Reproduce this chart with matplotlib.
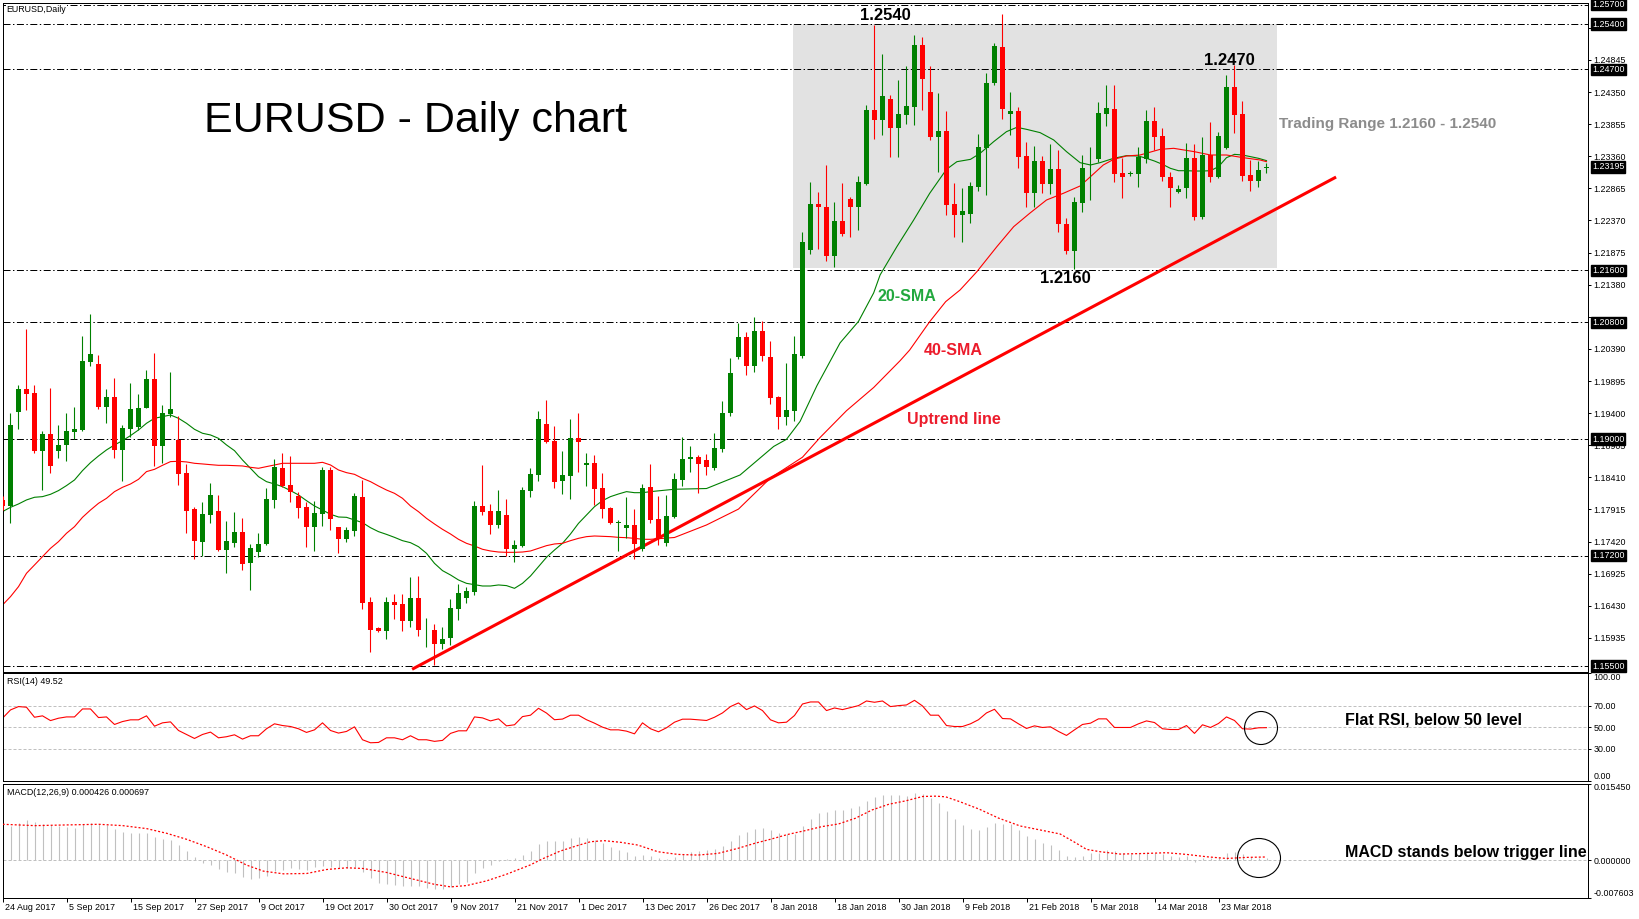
import matplotlib
matplotlib.use('Agg')
import matplotlib.pyplot as plt
from matplotlib.patches import Rectangle, Ellipse

plt.rcParams['font.family'] = ['Liberation Sans', 'DejaVu Sans']

# ---- data (EURUSD daily, 159 bars) ----
opens = [1.18061, 1.17968, 1.19423, 1.19772, 1.19711, 1.18821, 1.19078, 1.18821, 1.18914, 1.19109,
         1.19140, 1.20194, 1.20158, 1.19500, 1.19649, 1.18837, 1.19161, 1.19191, 1.19484, 1.19926,
         1.18898, 1.19392, 1.18986, 1.18477, 1.17922, 1.17418, 1.17835, 1.17891, 1.17295, 1.17403,
         1.17567, 1.17094, 1.17264, 1.17382, 1.18061, 1.18554, 1.18292, 1.18122, 1.17953, 1.17649,
         1.17845, 1.18523, 1.17639, 1.17464, 1.17587, 1.18106, 1.16487, 1.16087, 1.16045, 1.16487,
         1.16456, 1.16199, 1.16544, 1.16066, 1.16056, 1.15840, 1.15937, 1.16379, 1.16554, 1.16642,
         1.17968, 1.17890, 1.17680, 1.17829, 1.17310, 1.17356, 1.18204, 1.18446, 1.19237, 1.18970,
         1.18358, 1.18435, 1.19016, 1.18605, 1.18631, 1.18245, 1.17937, 1.17700, 1.17634, 1.17675,
         1.17305, 1.18253, 1.17774, 1.17399, 1.17801, 1.18363, 1.18694, 1.18721, 1.18677, 1.18556,
         1.18842, 1.19409, 1.20263, 1.20566, 1.20125, 1.20659, 1.20263, 1.19646, 1.19338, 1.19437,
         1.20274, 1.21915, 1.22620, 1.22576, 1.21816, 1.22356, 1.22703, 1.22576, 1.22934, 1.24074,
         1.23925, 1.24239, 1.23804, 1.23997, 1.24118, 1.25071, 1.24349, 1.23650, 1.23743, 1.22620,
         1.22449, 1.22475, 1.22892, 1.23493, 1.24485, 1.25045, 1.24007, 1.24058, 1.23364, 1.22799,
         1.23287, 1.22928, 1.23164, 1.22321, 1.21905, 1.22645, 1.23344, 1.23323, 1.24012, 1.24089,
         1.23097, 1.23092, 1.23092, 1.23323, 1.23904, 1.23673, 1.23041, 1.22809, 1.22876, 1.23334,
         1.22424, 1.23380, 1.23046, 1.23483, 1.24423, 1.24012, 1.23072, 1.22979, 1.23174]
highs = [1.18120, 1.19397, 1.19834, 1.20697, 1.19829, 1.19125, 1.19788, 1.19217, 1.19397, 1.19500,
         1.20595, 1.20929, 1.20297, 1.19772, 1.19942, 1.19217, 1.19865, 1.19695, 1.20065, 1.20327,
         1.19525, 1.20034, 1.19356, 1.18616, 1.17958, 1.18030, 1.18328, 1.18138, 1.17742, 1.17876,
         1.17783, 1.17382, 1.17552, 1.18246, 1.18693, 1.18785, 1.18744, 1.18184, 1.18030, 1.18045,
         1.18569, 1.18564, 1.17649, 1.17649, 1.18173, 1.18374, 1.16559, 1.16107, 1.16559, 1.16611,
         1.16611, 1.16868, 1.16883, 1.16241, 1.16148, 1.16102, 1.16539, 1.16770, 1.16724, 1.18050,
         1.18595, 1.17998, 1.18214, 1.18075, 1.17443, 1.18261, 1.18554, 1.19432, 1.19602, 1.19206,
         1.18816, 1.19309, 1.19402, 1.18785, 1.18759, 1.18476, 1.17947, 1.17752, 1.18106, 1.17921,
         1.18307, 1.18611, 1.18115, 1.18143, 1.18473, 1.19024, 1.18897, 1.18749, 1.18776, 1.19095,
         1.19591, 1.20252, 1.20797, 1.20648, 1.20880, 1.20814, 1.20511, 1.19657, 1.20180, 1.20593,
         1.22190, 1.22961, 1.22813, 1.23226, 1.22659, 1.22950, 1.22725, 1.23061, 1.24151, 1.25385,
         1.24933, 1.24311, 1.24531, 1.24751, 1.25230, 1.25192, 1.24751, 1.24338, 1.24052, 1.22945,
         1.22868, 1.22969, 1.23699, 1.24650, 1.25112, 1.25554, 1.24346, 1.24125, 1.23586, 1.23524,
         1.23364, 1.23544, 1.23457, 1.22403, 1.22727, 1.23375, 1.23508, 1.24202, 1.24459, 1.24459,
         1.23329, 1.23138, 1.23508, 1.24074, 1.24115, 1.23791, 1.23123, 1.22917, 1.23560, 1.23550,
         1.23663, 1.23894, 1.23740, 1.24614, 1.24768, 1.24213, 1.23303, 1.23293, 1.23251]
lows = [1.17900, 1.17711, 1.19155, 1.19448, 1.18790, 1.18215, 1.18482, 1.18713, 1.18667, 1.18996,
        1.19130, 1.20132, 1.19464, 1.19253, 1.18713, 1.18359, 1.19037, 1.19140, 1.19479, 1.18590,
        1.18631, 1.19346, 1.18297, 1.17557, 1.17156, 1.17197, 1.17711, 1.17279, 1.16940, 1.17336,
        1.16976, 1.16678, 1.17177, 1.17367, 1.17942, 1.18261, 1.18035, 1.17783, 1.17341, 1.17279,
        1.17665, 1.17597, 1.17238, 1.17413, 1.17510, 1.16384, 1.15721, 1.16030, 1.15922, 1.16230,
        1.16045, 1.16107, 1.15968, 1.15788, 1.15516, 1.15768, 1.15824, 1.16215, 1.16467, 1.16595,
        1.17834, 1.17541, 1.17634, 1.17197, 1.17109, 1.17341, 1.18106, 1.18358, 1.18939, 1.18250,
        1.18158, 1.18081, 1.18492, 1.18276, 1.17988, 1.17788, 1.17695, 1.17279, 1.17474, 1.17156,
        1.17274, 1.17702, 1.17372, 1.17355, 1.17785, 1.18280, 1.18490, 1.18171, 1.18446, 1.18528,
        1.18804, 1.19354, 1.20235, 1.19988, 1.20032, 1.20197, 1.19547, 1.19162, 1.19217, 1.19272,
        1.20250, 1.21860, 1.21926, 1.21750, 1.21651, 1.22135, 1.22119, 1.22218, 1.22917, 1.23633,
        1.23688, 1.23347, 1.23347, 1.23854, 1.23843, 1.24074, 1.23611, 1.23116, 1.22449, 1.22108,
        1.22036, 1.22336, 1.22825, 1.22763, 1.24459, 1.23930, 1.23688, 1.23185, 1.22583, 1.22583,
        1.22799, 1.22773, 1.22198, 1.21853, 1.21620, 1.22506, 1.22686, 1.23277, 1.23832, 1.22969,
        1.22722, 1.23061, 1.22892, 1.23251, 1.23457, 1.22979, 1.22583, 1.22789, 1.22712, 1.22378,
        1.22398, 1.22969, 1.23020, 1.23472, 1.23714, 1.22979, 1.22830, 1.22892, 1.23097]
closes = [1.17968, 1.19217, 1.19772, 1.19700, 1.18816, 1.19078, 1.18590, 1.18909, 1.19125, 1.19161,
          1.20204, 1.20312, 1.19495, 1.19649, 1.18837, 1.19171, 1.19464, 1.19479, 1.19926, 1.18898,
          1.19397, 1.19464, 1.18467, 1.17896, 1.17433, 1.17845, 1.18138, 1.17295, 1.17428, 1.17567,
          1.17079, 1.17320, 1.17382, 1.18076, 1.18569, 1.18276, 1.18184, 1.17937, 1.17649, 1.17860,
          1.18523, 1.17772, 1.17459, 1.17592, 1.18117, 1.16477, 1.16061, 1.16045, 1.16487, 1.16446,
          1.16199, 1.16544, 1.16061, 1.16076, 1.15840, 1.15922, 1.16395, 1.16621, 1.16657, 1.17968,
          1.17875, 1.17680, 1.17890, 1.17310, 1.17366, 1.18214, 1.18461, 1.19309, 1.18955, 1.18343,
          1.18441, 1.19016, 1.18955, 1.18631, 1.18235, 1.17926, 1.17705, 1.17721, 1.17675, 1.17387,
          1.18245, 1.17757, 1.17454, 1.17812, 1.18391, 1.18694, 1.18721, 1.18611, 1.18567, 1.18859,
          1.19409, 1.20015, 1.20566, 1.20125, 1.20659, 1.20274, 1.19630, 1.19338, 1.19448, 1.20318,
          1.22036, 1.22631, 1.22576, 1.21816, 1.22356, 1.22163, 1.22576, 1.22961, 1.24074, 1.23925,
          1.24283, 1.23804, 1.24008, 1.24134, 1.25071, 1.24547, 1.23650, 1.23743, 1.22614, 1.22449,
          1.22510, 1.22902, 1.23508, 1.24495, 1.25061, 1.24094, 1.24058, 1.23354, 1.22799, 1.23287,
          1.22933, 1.23164, 1.22321, 1.21905, 1.22655, 1.23174, 1.23354, 1.24022, 1.24100, 1.23092,
          1.23046, 1.23102, 1.23354, 1.23904, 1.23663, 1.23036, 1.22876, 1.22861, 1.23334, 1.22424,
          1.23380, 1.23046, 1.23673, 1.24423, 1.23997, 1.23061, 1.22979, 1.23149, 1.23195]

# moving averages (bar index, value)
sma20_x = list(range(0, 82)) + [84, 88, 92.2, 96.4, 98, 99.7, 101.8, 104.7, 107, 108.9,
                                 109.7, 111.8, 113.9, 115.9, 118, 119.3, 121, 122.2, 123.9, 125.5,
                                 126.8, 128, 129.7, 131.4, 133, 134.7, 136, 137.2, 138.9, 140.5, 142] \
    + list(range(143, 159))
sma20_y = [1.17881, 1.17947, 1.17999, 1.18061, 1.18102, 1.18112, 1.18148, 1.18205, 1.18282, 1.18369,
           1.18513, 1.18636, 1.18739, 1.18832, 1.18909, 1.18975, 1.19053, 1.19140, 1.19243, 1.19320,
           1.19346, 1.19371, 1.19320, 1.19243, 1.19150, 1.19089, 1.19063, 1.19011, 1.18909, 1.18821,
           1.18677, 1.18549, 1.18420, 1.18343, 1.18307, 1.18266, 1.18205, 1.18138, 1.18050, 1.17968,
           1.17905, 1.17840, 1.17798, 1.17793, 1.17752, 1.17711, 1.17633, 1.17572, 1.17530, 1.17484,
           1.17433, 1.17402, 1.17340, 1.17238, 1.17083, 1.16971, 1.16904, 1.16827, 1.16775, 1.16755,
           1.16734, 1.16734, 1.16750, 1.16740, 1.16698, 1.16775, 1.16888, 1.17032, 1.17176, 1.17289,
           1.17392, 1.17536, 1.17700, 1.17829, 1.17957, 1.18050, 1.18112, 1.18153, 1.18189, 1.18173,
           1.18173, 1.18189,
           1.18226, 1.18237, 1.18446, 1.18886, 1.18996, 1.19272, 1.19822, 1.20483, 1.20814, 1.21254,
           1.21530, 1.21967, 1.22378, 1.22789, 1.23159, 1.23277, 1.23313, 1.23406, 1.23586, 1.23740,
           1.23807, 1.23776, 1.23725, 1.23612, 1.23432, 1.23262, 1.23226, 1.23262, 1.23329, 1.23370,
           1.23364,
           1.23329, 1.23287, 1.23236, 1.23174, 1.23138, 1.23138, 1.23133, 1.23133, 1.23138, 1.23200,
           1.23339, 1.23390, 1.23380, 1.23354, 1.23329, 1.23293]
sma40_x = list(range(0, 82)) + [84, 88, 92, 96, 100, 102.2, 105.5, 108.9, 112.2,
                                 113.4, 115.9, 117.9, 119.7, 121.8, 124.3, 126.4, 128.4, 130.5, 132.6,
                                 134.7, 136, 137.6, 138.9, 140.5, 142.2,
                                 144.7, 146.4, 149, 151, 153, 155.1, 157.2, 158]
sma40_y = [1.16441, 1.16570, 1.16724, 1.16930, 1.17058, 1.17187, 1.17315, 1.17418, 1.17547, 1.17649,
           1.17793, 1.17906, 1.18009, 1.18086, 1.18189, 1.18256, 1.18307, 1.18379, 1.18498, 1.18533,
           1.18595, 1.18652, 1.18657, 1.18647, 1.18626, 1.18616, 1.18605, 1.18595, 1.18595, 1.18590,
           1.18585, 1.18564, 1.18549, 1.18575, 1.18600, 1.18626, 1.18626, 1.18626, 1.18626, 1.18626,
           1.18641, 1.18600, 1.18523, 1.18482, 1.18456, 1.18394, 1.18343, 1.18276, 1.18214, 1.18163,
           1.18086, 1.17968, 1.17880, 1.17777, 1.17690, 1.17608, 1.17536, 1.17454, 1.17392, 1.17351,
           1.17300, 1.17274, 1.17258, 1.17253, 1.17253, 1.17258, 1.17274, 1.17315, 1.17356, 1.17382,
           1.17392, 1.17433, 1.17469, 1.17495, 1.17505, 1.17500, 1.17495, 1.17484, 1.17479, 1.17469,
           1.17454, 1.17454,
           1.17482, 1.17675, 1.17920, 1.18400, 1.18720, 1.19024, 1.19437, 1.19795, 1.20208,
           1.20373, 1.20810, 1.21119, 1.21299, 1.21581, 1.21967, 1.22275, 1.22481, 1.22686, 1.22789,
           1.22902, 1.23046, 1.23226, 1.23313, 1.23365, 1.23380,
           1.23467, 1.23483, 1.23431, 1.23380, 1.23380, 1.23339, 1.23303, 1.23277]

trend_x = [51.2, 166.7]
trend_y = [1.1545, 1.2304]

rsi = [58.3, 66.0, 69.1, 68.5, 59.2, 60.5, 56.1, 58.3, 59.5, 59.5,
       66.9, 66.9, 58.9, 59.5, 52.5, 55.2, 56.8, 56.8, 60.5, 50.9,
       54.0, 54.9, 46.9, 43.2, 39.5, 43.2, 45.4, 40.1, 41.1, 42.9,
       38.9, 42.0, 42.0, 48.5, 53.1, 51.5, 50.6, 48.5, 45.1, 47.5,
       54.0, 46.9, 44.5, 46.0, 50.3, 38.3, 35.5, 35.8, 40.1, 40.1,
       38.3, 42.0, 38.3, 38.3, 36.8, 37.7, 44.2, 46.6, 46.6, 59.5,
       58.6, 55.8, 57.7, 51.2, 52.2, 59.8, 61.1, 67.5, 63.1, 56.9,
       57.5, 61.1, 61.1, 56.9, 53.7, 50.0, 47.5, 47.5, 46.3, 43.8,
       54.0, 48.5, 45.7, 49.4, 54.6, 57.4, 57.4, 56.8, 56.2, 59.2,
       63.2, 69.1, 72.5, 66.3, 69.7, 65.4, 56.8, 54.0, 54.6, 60.8,
       71.5, 73.4, 73.4, 65.4, 67.8, 66.3, 68.2, 70.0, 74.3, 73.1,
       74.3, 69.1, 70.0, 70.6, 74.9, 69.7, 61.1, 61.1, 51.5, 50.6,
       50.6, 53.1, 56.9, 63.2, 66.6, 58.0, 57.7, 53.1, 48.8, 51.2,
       49.7, 50.3, 46.0, 42.3, 47.5, 52.5, 53.7, 57.7, 57.7, 49.7,
       49.7, 49.7, 53.1, 55.8, 54.3, 48.5, 47.8, 47.8, 51.5, 44.2,
       52.2, 49.7, 53.4, 59.5, 56.2, 48.5, 48.2, 49.4, 49.52]

macd = [0.00726, 0.00699, 0.00760, 0.00813, 0.00780, 0.00726, 0.00706, 0.00699, 0.00679, 0.00645,
        0.00726, 0.00760, 0.00726, 0.00706, 0.00632, 0.00571, 0.00545, 0.00545, 0.00545, 0.00477,
        0.00430, 0.00410, 0.00316, 0.00195, 0.00061, -0.00047, -0.00094, -0.00168, -0.00235, -0.00262,
        -0.00329, -0.00370, -0.00350, -0.00316, -0.00208, -0.00195, -0.00161, -0.00168, -0.00195, -0.00128,
        -0.00108, -0.00128, -0.00161, -0.00148, -0.00141, -0.00235, -0.00350, -0.00450, -0.00464, -0.00484,
        -0.00511, -0.00518, -0.00518, -0.00551, -0.00565, -0.00571, -0.00531, -0.00464, -0.00430, -0.00262,
        -0.00148, -0.00094, -0.00007, 0.00034, 0.00040, 0.00108, 0.00188, 0.00329, 0.00390, 0.00390,
        0.00390, 0.00450, 0.00471, 0.00450, 0.00403, 0.00350, 0.00269, 0.00208, 0.00168, 0.00087,
        0.00108, 0.00087, 0.00054, 0.00027, 0.00074, 0.00121, 0.00168, 0.00188, 0.00208, 0.00229,
        0.00296, 0.00390, 0.00518, 0.00571, 0.00632, 0.00652, 0.00612, 0.00551, 0.00531, 0.00538,
        0.00692, 0.00834, 0.00961, 0.00975, 0.01015, 0.01015, 0.01062, 0.01096, 0.01197, 0.01264,
        0.01311, 0.01318, 0.01318, 0.01298, 0.01358, 0.01331, 0.01244, 0.01150, 0.00995, 0.00834,
        0.00719, 0.00632, 0.00612, 0.00672, 0.00760, 0.00740, 0.00733, 0.00612, 0.00497, 0.00430,
        0.00343, 0.00309, 0.00208, 0.00087, 0.00061, 0.00094, 0.00148, 0.00155, 0.00202, 0.00188,
        0.00141, 0.00121, 0.00141, 0.00175, 0.00155, 0.00121, 0.00094, 0.00061, 0.00094, -0.00027,
        0.00040, 0.00054, 0.00074, 0.00141, 0.00175, 0.00121, 0.00074, 0.00054, 0.000426]
signal_x = [0, 4, 8, 12, 15, 18, 20.5, 23, 25.5, 28, 30.5, 32.6, 35.1, 38, 40.5, 43, 45, 48, 51, 53.9,
            56, 58, 60.5, 63, 65.9, 67.6, 69.7, 71.8, 73.5, 75.2, 77.3, 79.4, 81.9, 84.4, 86.9, 89.4,
            91.9, 94, 96.1, 98.2, 100.3, 102.4, 104.5, 106.6, 108.7, 110.8, 112.9, 115, 116.7, 117.9,
            119.6, 122.1, 124.5, 127.2, 129.7, 132.2, 133.9, 135.5, 137.2, 139.7, 143, 145.5, 148,
            150.5, 153, 155.5, 158]
signal_y = [0.00726, 0.00699, 0.00713, 0.00726, 0.00699, 0.00639, 0.00545, 0.00424, 0.00276, 0.00108,
            -0.00094, -0.00215, -0.00269, -0.00262, -0.00182, -0.00148, -0.00161, -0.00242, -0.00363,
            -0.00477, -0.00531, -0.00504, -0.00410, -0.00276, -0.00094, 0.00040, 0.00188, 0.00296,
            0.00376, 0.00397, 0.00363, 0.00309, 0.00175, 0.00121, 0.00108, 0.00141, 0.00242, 0.00343,
            0.00430, 0.00524, 0.00598, 0.00679, 0.00733, 0.00847, 0.01015, 0.01129, 0.01197, 0.01284,
            0.01291, 0.01277, 0.01183, 0.01029, 0.00850, 0.00692, 0.00612, 0.00531, 0.00376, 0.00222,
            0.00175, 0.00128, 0.00141, 0.00155, 0.00121, 0.00074, 0.00040, 0.00061, 0.000697]

date_labels = ['24 Aug 2017', '5 Sep 2017', '15 Sep 2017', '27 Sep 2017', '9 Oct 2017',
               '19 Oct 2017', '30 Oct 2017', '9 Nov 2017', '21 Nov 2017', '1 Dec 2017',
               '13 Dec 2017', '26 Dec 2017', '8 Jan 2018', '18 Jan 2018', '30 Jan 2018',
               '9 Feb 2018', '21 Feb 2018', '5 Mar 2018', '14 Mar 2018', '23 Mar 2018']
date_bars = [0, 8, 16, 24, 32, 40, 48, 56, 64, 72, 80, 88, 96, 104, 112, 120, 128, 136, 144, 152]

price_ticks = [1.25340, 1.24845, 1.24350, 1.23855, 1.23360, 1.22865, 1.22370, 1.21875, 1.21380,
               1.20885, 1.20390, 1.19895, 1.19400, 1.18905, 1.18410, 1.17915, 1.17420, 1.16925,
               1.16430, 1.15935]
levels = [1.257, 1.254, 1.247, 1.216, 1.208, 1.190, 1.172, 1.155]
boxed = [1.25700, 1.25400, 1.24700, 1.23195, 1.21600, 1.20800, 1.19000, 1.17200, 1.15500]

range_lo, range_hi = 1.2164, 1.2540
range_x0, range_x1 = 98.8, 159.3

# ---- layout (pixel based, 1640x919) ----
W, H = 1640, 919
fig = plt.figure(figsize=(16.4, 9.19), dpi=100)


def panel(top, bottom):
    return fig.add_axes([2.7 / W, 1 - bottom / H, (1588 - 2.7) / W, (bottom - top) / H])


ax = panel(2.7, 671.5)
ax_rsi = panel(673.3, 781.0)
ax_macd = panel(783.5, 898.3)

XLIM = (0.025, 198.19)
PX = 0.72  # one pixel in points
dashdot = (0, (7, 2.5, 1.4, 2.5))
grey_dash = (0, (3, 2))
small = 6.4

for a in (ax, ax_rsi, ax_macd):
    a.set_xlim(*XLIM)
    for s in a.spines.values():
        s.set_linewidth(PX)
    a.yaxis.tick_right()
    a.tick_params(axis='y', direction='out', length=2.5, width=PX, pad=1.5,
                  labelsize=small, colors='black')
    a.tick_params(axis='x', bottom=False, labelbottom=False)

# ---- price panel ----
ax.set_ylim(1.154155, 1.257285)
ax.add_patch(Rectangle((range_x0, range_lo), range_x1 - range_x0, range_hi - range_lo,
                       facecolor='#e2e2e2', edgecolor='none', zorder=0))
for lv in levels:
    ax.axhline(lv, color='black', lw=PX, ls=dashdot, zorder=1)

ax.plot(sma20_x, sma20_y, color='#008000', lw=0.8, zorder=2)
ax.plot(sma40_x, sma40_y, color='#ff0000', lw=0.8, zorder=2)
ax.plot(trend_x, trend_y, color='#ff0000', lw=2.2, solid_capstyle='butt', zorder=2.5)

bars = list(range(len(opens)))
for i in bars:
    o, h, l, c = opens[i], highs[i], lows[i], closes[i]
    col = '#008000' if c >= o else '#ff0000'
    ax.vlines(i, l, h, color=col, lw=PX * 1.1, zorder=3)
    lo_b, hi_b = min(o, c), max(o, c)
    if hi_b - lo_b < 0.00012:
        mid = (hi_b + lo_b) / 2
        lo_b, hi_b = mid - 0.00006, mid + 0.00006
    ax.bar(i, hi_b - lo_b, bottom=lo_b, width=0.625, color=col, linewidth=0, zorder=3)

# tick labels that sit under a level box are covered in the reference, so leave them blank
covered = [t for t in price_ticks if min(abs(t - b) for b in boxed) < 0.0009]
ax.set_yticks(price_ticks, labels=['' if t in covered else f'{t:.5f}' for t in price_ticks])
for lv in boxed:
    ax.annotate(f'{lv:.5f}', xy=(1, lv), xycoords=('axes fraction', 'data'),
                xytext=(4, 0), textcoords='offset pixels', ha='left', va='center',
                color='white', fontsize=small, annotation_clip=False, zorder=10,
                bbox=dict(boxstyle='square,pad=0.12', fc='black', ec='black'))

ax.annotate('EURUSD,Daily', xy=(0, 1), xycoords='axes fraction', xytext=(4, -7),
            textcoords='offset pixels', ha='left', va='center', fontsize=small, zorder=10,
            bbox=dict(boxstyle='square,pad=0.1', fc='white', ec='none'))

ax.text(25.2, 1.23734, 'EURUSD - Daily chart', fontsize=31, ha='left', va='baseline', zorder=5)
ax.text(110.3, 1.25468, '1.2540', fontsize=12, fontweight='bold', ha='center', va='baseline', zorder=5)
ax.text(153.3, 1.24768, '1.2470', fontsize=12, fontweight='bold', ha='center', va='baseline', zorder=5)
ax.text(132.8, 1.21402, '1.2160', fontsize=12, fontweight='bold', ha='center', va='baseline', zorder=5)
ax.text(159.6, 1.23792, 'Trading Range 1.2160 - 1.2540', fontsize=11, fontweight='bold',
        color='#8c8c8c', ha='left', va='baseline', zorder=5)
ax.text(109.4, 1.21129, '20-SMA', fontsize=11.5, fontweight='bold', color='#22a83e',
        ha='left', va='baseline', zorder=5)
ax.text(115.1, 1.20296, '40-SMA', fontsize=11.5, fontweight='bold', color='#ec1c2c',
        ha='left', va='baseline', zorder=5)
ax.text(113.1, 1.19232, 'Uptrend line', fontsize=11.5, fontweight='bold', color='#ec1c2c',
        ha='left', va='baseline', zorder=5)

# ---- RSI panel ----
ax_rsi.set_ylim(0, 100)
for lv in (30, 50, 70):
    ax_rsi.axhline(lv, color='#c0c0c0', lw=PX, ls=grey_dash, zorder=1)
ax_rsi.plot(bars, rsi, color='#ff0000', lw=0.8, zorder=2)
ax_rsi.set_yticks([0, 30, 50, 70, 100], labels=['0.00', '30.00', '50.00', '70.00', '100.00'])
rl = ax_rsi.get_yticklabels()
rl[0].set_verticalalignment('bottom')
rl[-1].set_verticalalignment('top')
ax_rsi.annotate('RSI(14) 49.52', xy=(0, 1), xycoords='axes fraction', xytext=(4, -8.5),
                textcoords='offset pixels', ha='left', va='center', fontsize=small)
ax_rsi.text(167.8, 52.5, 'Flat RSI, below 50 level', fontsize=11.5, fontweight='bold',
            ha='left', va='baseline')

# ---- MACD panel ----
ax_macd.set_ylim(-0.007603, 0.015450)
ax_macd.axhline(0, color='#c0c0c0', lw=PX, ls=grey_dash, zorder=1)
ax_macd.vlines(bars, 0, macd, color='#c0c0c0', lw=PX * 1.1, zorder=2)
ax_macd.plot(signal_x, signal_y, color='#ff0000', lw=0.9, ls=(0, (1.6, 1.6)), zorder=3)
ax_macd.set_yticks([-0.007603, 0.0, 0.015450], labels=['-0.007603', '0.000000', '0.015450'])
ml = ax_macd.get_yticklabels()
ml[0].set_verticalalignment('bottom')
ml[-1].set_verticalalignment('top')
ax_macd.annotate('MACD(12,26,9) 0.000426 0.000697', xy=(0, 1), xycoords='axes fraction',
                 xytext=(4, -9.2), textcoords='offset pixels', ha='left', va='center', fontsize=small)
ax_macd.text(167.8, 0.0007, 'MACD stands below trigger line', fontsize=11.5, fontweight='bold',
             ha='left', va='baseline')

ax_macd.set_xticks(date_bars, labels=[''] * len(date_bars))
ax_macd.tick_params(axis='x', bottom=True, direction='out', length=3, width=PX)
for b, lbl in zip(date_bars, date_labels):
    ax_macd.annotate(lbl, xy=(b, 0), xycoords=('data', 'axes fraction'), xytext=(2.5, -9),
                     textcoords='offset pixels', ha='left', va='center', fontsize=small,
                     annotation_clip=False)

# circles around the latest RSI / MACD readings
fig.add_artist(Ellipse((1261 / W, 1 - 728 / H), 33 / W, 33 / H, transform=fig.transFigure,
                       fill=False, ec='black', lw=0.8))
fig.add_artist(Ellipse((1259 / W, 1 - 858 / H), 43 / W, 39 / H, transform=fig.transFigure,
                       fill=False, ec='black', lw=0.8))

fig.savefig('out.png', dpi=100)
